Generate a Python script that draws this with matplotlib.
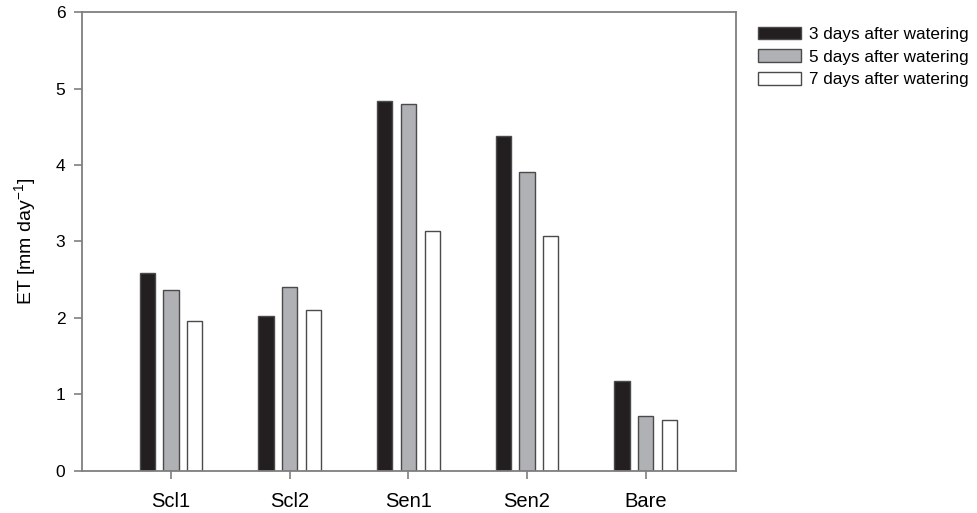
import numpy as np
import matplotlib
matplotlib.use("Agg")
import matplotlib.pyplot as plt

plt.rcParams['font.family'] = ['Liberation Sans', 'DejaVu Sans']

sites = ['Scl1', 'Scl2', 'Sen1', 'Sen2', 'Bare']
day3 = [2.59, 2.02, 4.84, 4.38, 1.17]
day5 = [2.36, 2.40, 4.80, 3.91, 0.71]
day7 = [1.96, 2.10, 3.14, 3.07, 0.66]
series_labels = ['3 days after watering', '5 days after watering', '7 days after watering']

colors = ['#231f20', '#b0b1b5', '#ffffff']
edge = '#4a4a4a'
frame = '#7f7f7f'

fig = plt.figure(figsize=(9.77, 5.13), dpi=100)
ax = fig.add_axes([0.0839, 0.0825, 0.6694, 0.8935])

x = np.arange(len(sites))
width = 0.128
offset = 0.2
for i, vals in enumerate([day3, day5, day7]):
    ax.bar(x + (i - 1) * offset, vals, width, color=colors[i], edgecolor=edge,
           linewidth=1.0, label=series_labels[i])

ax.set_xlim(-0.75, 4.76)
ax.set_ylim(0, 6)
ax.set_xticks(x)
ax.set_xticklabels(sites, fontsize=14.5)
ax.set_yticks(range(0, 7))
ax.tick_params(axis='y', labelsize=12.5, direction='out', length=6, color=frame, width=1.2, pad=6)
ax.tick_params(axis='x', direction='out', length=6, color=frame, width=1.2, pad=9)
for s in ax.spines.values():
    s.set_color(frame)
    s.set_linewidth(1.3)

ax.set_ylabel(r'ET [mm day$^{\mathregular{-1}}$]', fontsize=14, labelpad=12)

fig.legend(loc='upper left', bbox_to_anchor=(0.776, 0.948), frameon=False,
           fontsize=12.3, handlelength=2.5, handleheight=0.76, labelspacing=0.43,
           handletextpad=0.5, borderaxespad=0, borderpad=0)

fig.savefig('out.png', dpi=100)
